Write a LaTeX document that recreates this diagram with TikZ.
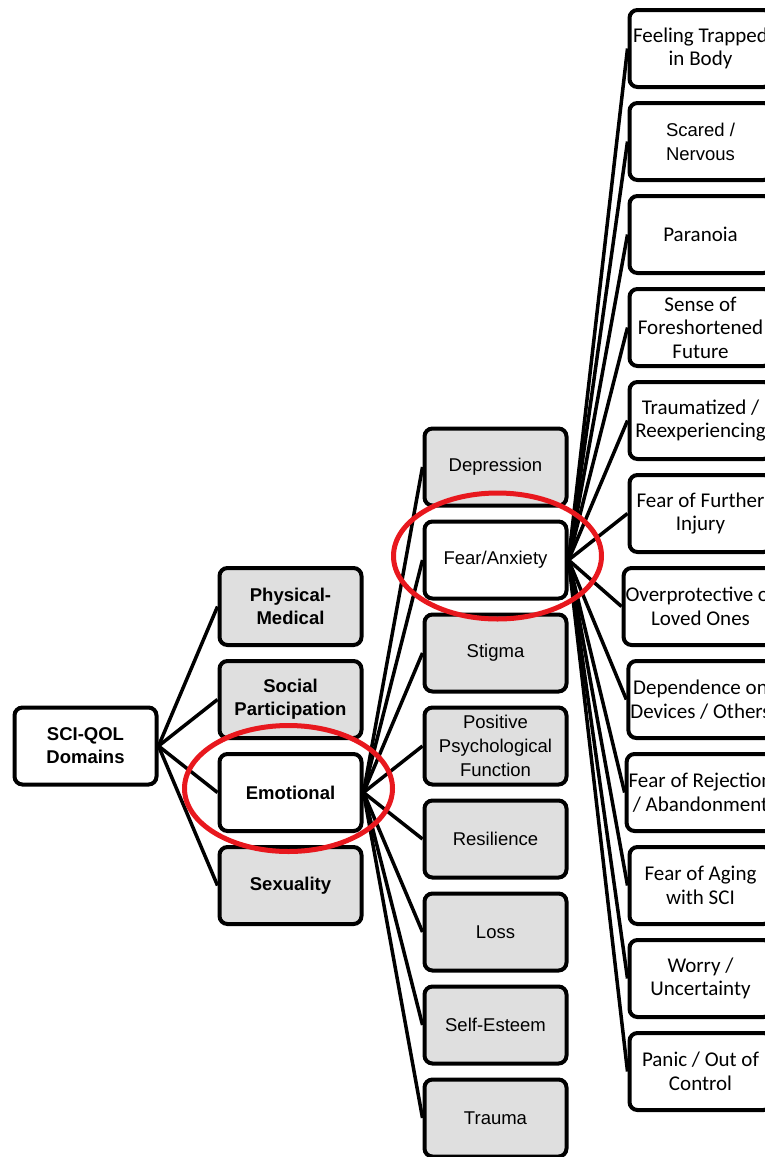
\documentclass[tikz,border=0pt]{standalone}
\usepackage{fontspec}
\setmainfont{Liberation Sans}
\newfontfamily\calibri{Carlito}
\definecolor{boxgrey}{RGB}{223,223,223}
\definecolor{ringred}{RGB}{232,24,30}

\begin{document}
\begin{tikzpicture}[x=1pt, y=-1pt, grow'=right, level distance=205pt,
                      sibling distance=93pt,
                      every node/.style = {shape=rectangle, rounded corners=8pt,
                        draw, line width=4pt, align=center, inner sep=2pt,
                        minimum width=142pt, minimum height=77pt},
                      domainbox/.style = {fill=boxgrey,
                        font=\fontsize{18.5}{23}\selectfont\bfseries},
                      facetbox/.style = {fill=boxgrey,
                        font=\fontsize{18.5}{24}\selectfont},
                      itembox/.style = {fill=white,
                        font=\fontsize{21}{23.5}\selectfont\calibri},
                      ring/.style = {draw=ringred, line width=5pt},
                      edge from parent/.style = {draw, line width=3.5pt},
                      edge from parent path = {(\tikzparentnode.east) -- (\tikzchildnode.west)}]
                      \useasboundingbox (0,0) rectangle (764,1157);
                      \node[domainbox, fill=white] (root) at (85.5,746) {SCI-QOL\\Domains}
                        child { node[domainbox] (phys) {Physical-\\Medical} }
                        child { node[domainbox] (soc) {Social\\Participation} }
                        child { node[domainbox, fill=white] (emo) {Emotional}
                            child { node[facetbox] (dep) {Depression} }
                            child { node[facetbox, fill=white] (fear) {Fear/Anxiety}
                                child { node[itembox] {Feeling Trapped\\in Body} }
                                child { node[itembox, font=\fontsize{18.5}{24}\selectfont] {Scared /\\Nervous} }
                                child { node[itembox] {Paranoia} }
                                child { node[itembox] {Sense of\\Foreshortened\\Future} }
                                child { node[itembox] {Traumatized /\\Reexperiencing} }
                                child { node[itembox] {Fear of Further\\Injury} }
                                child { node[itembox] {Overprotective of\\Loved Ones} }
                                child { node[itembox] {Dependence on\\Devices / Others} }
                                child { node[itembox] {Fear of Rejection\\/ Abandonment} }
                                child { node[itembox] {Fear of Aging\\with SCI} }
                                child { node[itembox] {Worry /\\Uncertainty} }
                                child { node[itembox] {Panic / Out of\\Control} }
                            }
                            child { node[facetbox] (stig) {Stigma} }
                            child { node[facetbox] (pos) {Positive\\Psychological\\Function} }
                            child { node[facetbox] (res) {Resilience} }
                            child { node[facetbox] (loss) {Loss} }
                            child { node[facetbox] (self) {Self-Esteem} }
                            child { node[facetbox] (trau) {Trauma} }
                        }
                        child { node[domainbox] (sex) {Sexuality} };
                      % highlight rings
                      \draw[ring] (emo.center) ++(-2,-4) ellipse [x radius=104, y radius=63];
                      \draw[ring] (fear.center) ++(2,-4) ellipse [x radius=104, y radius=63];
                    \end{tikzpicture}
\end{document}
